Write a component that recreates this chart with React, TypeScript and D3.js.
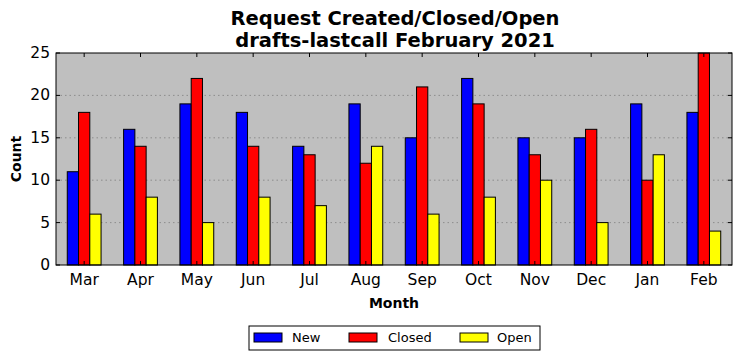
import React from "react";
import * as d3 from "d3";

const months = ["Mar", "Apr", "May", "Jun", "Jul", "Aug", "Sep", "Oct", "Nov", "Dec", "Jan", "Feb"];
const newCounts = [11, 16, 19, 18, 14, 19, 15, 22, 15, 15, 19, 18];
const closedCounts = [18, 14, 22, 14, 13, 12, 21, 19, 13, 16, 10, 25];
const openCounts = [6, 8, 5, 8, 7, 14, 6, 8, 10, 5, 13, 4];
const yTicks = [0, 5, 10, 15, 20, 25];

const series = [
  { name: "New", color: "#0000ff", values: newCounts },
  { name: "Closed", color: "#ff0000", values: closedCounts },
  { name: "Open", color: "#ffff00", values: openCounts },
];

const W = 742, H = 361;
const margin = { top: 53, right: 10, bottom: 96, left: 56 };
const font = "DejaVu Sans, sans-serif";
// legend entry offsets (patch x, text x) inside the legend box
const legendPos = [[5, 43], [100, 139], [211, 248]];

export default function App() {
  const iw = W - margin.left - margin.right;
  const ih = H - margin.top - margin.bottom;

  const x = d3.scaleBand().domain(months).range([0, iw]);
  const y = d3.scaleLinear().domain([0, 25]).range([ih, 0]);
  const barW = x.bandwidth() * 0.2;

  return (
    <svg width={W} height={H} style={{ position: "absolute", left: 0, top: 0, fontFamily: font }}>
      <rect width={W} height={H} fill="#fff" />
      <text x={395} y={25} textAnchor="middle" fontSize={19.5} fontWeight="bold">
        Request Created/Closed/Open
      </text>
      <text x={395} y={47} textAnchor="middle" fontSize={19.5} fontWeight="bold">
        drafts-lastcall February 2021
      </text>
      <g transform={`translate(${margin.left},${margin.top})`}>
        <rect width={iw} height={ih} fill="#bfbfbf" />
        {yTicks.filter((t) => t > 0 && t < 25).map((t) => (
          <line key={t} x1={0} x2={iw} y1={y(t)} y2={y(t)} stroke="#808080" strokeDasharray="1.5,3" strokeWidth={0.8} />
        ))}
        {months.map((m, i) => (
          <g key={m}>
            {series.map((s, j) => (
              <rect
                key={s.name}
                x={(x(m) as number) + x.bandwidth() * 0.2 + j * barW}
                y={y(s.values[i])}
                width={barW}
                height={ih - y(s.values[i])}
                fill={s.color}
                stroke="#000"
                strokeWidth={1}
              />
            ))}
          </g>
        ))}
        {months.map((m) => {
          const cx = (x(m) as number) + x.bandwidth() / 2;
          return (
            <g key={m}>
              <line x1={cx} x2={cx} y1={ih} y2={ih - 4} stroke="#000" />
              <line x1={cx} x2={cx} y1={0} y2={4} stroke="#000" />
              <text x={cx} y={ih + 20} textAnchor="middle" fontSize={15.5}>{m}</text>
            </g>
          );
        })}
        {yTicks.map((t) => (
          <g key={t}>
            <line x1={0} x2={4} y1={y(t)} y2={y(t)} stroke="#000" />
            <line x1={iw} x2={iw - 4} y1={y(t)} y2={y(t)} stroke="#000" />
            <text x={-6} y={y(t) + 5} textAnchor="end" fontSize={15.5}>{t}</text>
          </g>
        ))}
        <rect width={iw} height={ih} fill="none" stroke="#000" strokeWidth={1} />
        <text x={iw / 2} y={ih + 43} textAnchor="middle" fontSize={14} fontWeight="bold">Month</text>
        <text transform={`translate(${-35},${ih / 2}) rotate(-90)`} textAnchor="middle" fontSize={14} fontWeight="bold">Count</text>
      </g>
      <g transform="translate(249,326)">
        <rect width={291} height={24} fill="#fff" stroke="#000" strokeWidth={1} />
        {series.map((s, i) => (
          <g key={s.name}>
            <rect x={legendPos[i][0]} y={7} width={28} height={9} fill={s.color} stroke="#000" />
            <text x={legendPos[i][1]} y={16} fontSize={13}>{s.name}</text>
          </g>
        ))}
      </g>
    </svg>
  );
}
